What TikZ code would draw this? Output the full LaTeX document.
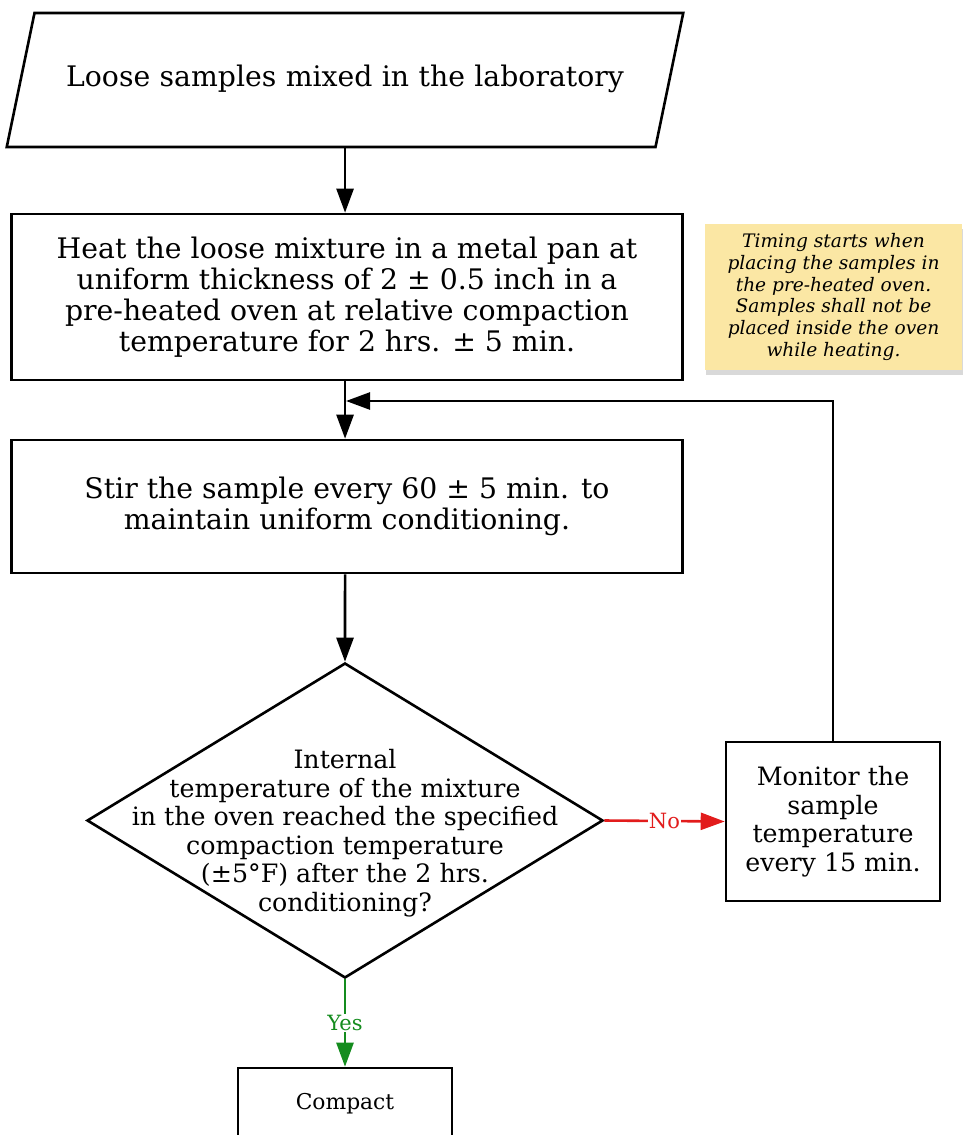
\documentclass[tikz,border=0pt]{standalone}
\usepackage{fontspec}
\setmainfont{DejaVu Serif}
\usetikzlibrary{shapes.geometric,arrows.meta,shadows}

\definecolor{noteyellow}{RGB}{251,231,164}
\definecolor{nored}{RGB}{226,28,28}
\definecolor{yesgreen}{RGB}{20,140,30}

\begin{document}
\begin{tikzpicture}[x=1pt,y=-1pt,
    box/.style={draw, line width=2.6pt, align=center, inner sep=0pt},
    arr/.style={line width=2.6pt, -{Triangle[length=24pt,width=17pt]}},
    bigtext/.style={font=\fontsize{28.3}{31.2}\selectfont},
    midtext/.style={font=\fontsize{25.3}{28.5}\selectfont}]
    \useasboundingbox (0,0) rectangle (964,1135);
    \clip (0,0) rectangle (964,1135);

    % flow chart
    \node[box, bigtext, trapezium, trapezium left angle=78.3, trapezium right angle=101.7, text width=573pt, text height=20pt, text depth=7pt, inner xsep=24pt, inner ysep=53.5pt] (mixed) at (345,80) {Loose samples mixed in the laboratory};
    \node[box, bigtext, minimum width=671pt, minimum height=166pt] (heat) at (347,297) {Heat the loose mixture in a metal pan at\\uniform thickness of 2 ± 0.5 inch in a\\pre-heated oven at relative compaction\\temperature for 2 hrs. ± 5 min.};
    \node[box, bigtext, minimum width=671pt, minimum height=133pt] (stir) at (347,506.5) {Stir the sample every 60 ± 5 min. to\\maintain uniform conditioning.};
    \node[box, diamond, minimum width=516pt, minimum height=315pt] (check) at (345,820.5) {};
    \node[midtext, align=center] (checktext) at (345,833) {Internal\\temperature of the mixture\\in the oven reached the specified\\compaction temperature\\(±5°F) after the 2 hrs.\\conditioning?};
    \node[box, midtext, minimum width=214pt, minimum height=159pt] (monitor) at (833,821.5) {Monitor the\\sample\\temperature\\every 15 min.};
    \node[box, font=\fontsize{21.8}{24}\selectfont, minimum width=214pt, minimum height=72pt] (compact) at (345,1104) {Compact};

    % note
    \node[fill=noteyellow, align=center, inner sep=0pt, minimum width=257pt, minimum height=146pt,
          font=\fontsize{18.6}{21.7}\selectfont\itshape,
          drop shadow={shadow xshift=1pt, shadow yshift=-5pt, opacity=0.3}] (note) at (833.5,297) {Timing starts when\\placing the samples in\\the pre-heated oven.\\Samples shall not be\\placed inside the oven\\while heating.};

    \coordinate (merge) at (346,401);
    \draw[arr] (mixed.south) -- (mixed.south |- heat.north);
    \draw[arr] (mixed.south |- heat.south) -- (mixed.south |- stir.north);
    \draw[arr] (monitor.north) |- (merge);
    \draw[arr] (mixed.south |- stir.south) -- (check.north);
    \draw[arr, nored] (check.east) -- node[fill=white, inner sep=1pt, font=\fontsize{21}{24}\selectfont] {No} (monitor.west);
    \draw[arr, yesgreen] (check.south) -- node[fill=white, inner sep=1pt, font=\fontsize{21}{24}\selectfont] {Yes} (compact.north);
\end{tikzpicture}
\end{document}
